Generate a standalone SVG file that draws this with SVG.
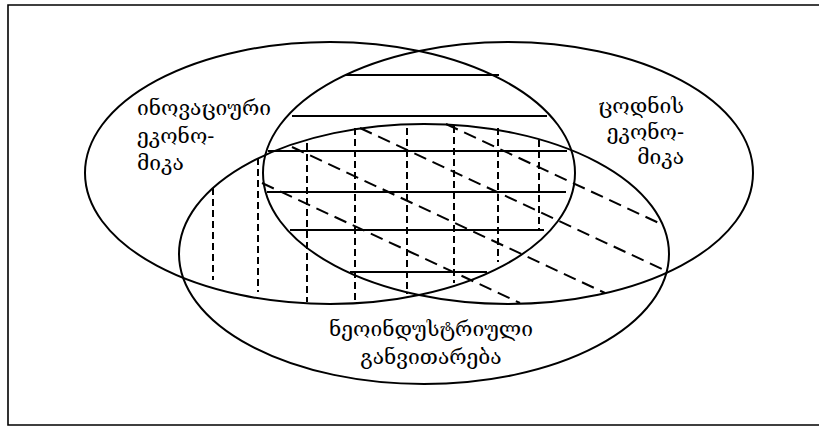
<svg xmlns="http://www.w3.org/2000/svg" width="819" height="427" viewBox="0 0 819 427">
<style>
.frame{fill:none;stroke:#000;stroke-width:1.6}
.ell{fill:none;stroke:#000;stroke-width:2}
.solid{stroke:#000;stroke-width:2;fill:none}
.vdash{stroke:#000;stroke-width:2;stroke-dasharray:7 4;fill:none}
.ddash{stroke:#000;stroke-width:2;stroke-dasharray:13 7;fill:none}
.lbl{font-family:"DejaVu Serif","DejaVu Sans",serif;font-size:21px;fill:#000}
</style>
<rect width="819" height="427" fill="#fff"/>
<path class="frame" d="M822,5 H8 V425 H822"/>
<g id="hatch-horizontal">
<line class="solid" x1="345" y1="75" x2="499" y2="75"/>
<line class="solid" x1="292" y1="116" x2="547" y2="116"/>
<line class="solid" x1="268" y1="151" x2="567" y2="151"/>
<line class="solid" x1="267" y1="192" x2="566" y2="192"/>
<line class="solid" x1="290" y1="230" x2="544" y2="230"/>
<line class="solid" x1="350" y1="272" x2="487" y2="272"/>
</g>
<g id="hatch-vertical">
<line class="vdash" x1="213" y1="188" x2="213" y2="280"/>
<line class="vdash" x1="258" y1="158" x2="258" y2="292"/>
<line class="vdash" x1="307" y1="143" x2="307" y2="302"/>
<line class="vdash" x1="355" y1="128" x2="355" y2="302"/>
<line class="vdash" x1="407" y1="128" x2="407" y2="294"/>
<line class="vdash" x1="454" y1="126" x2="454" y2="283"/>
<line class="vdash" x1="498" y1="128" x2="498" y2="262"/>
<line class="vdash" x1="539" y1="140" x2="539" y2="230"/>
</g>
<g id="hatch-diagonal">
<line class="ddash" x1="446" y1="124" x2="661" y2="224"/>
<line class="ddash" x1="360" y1="128" x2="664" y2="270"/>
<line class="ddash" x1="292" y1="147" x2="605" y2="293"/>
<line class="ddash" x1="262" y1="183" x2="520" y2="303"/>
</g>
<g id="innovative-economy">
<ellipse class="ell" cx="330" cy="173" rx="245" ry="131"/>
<text class="lbl" x="137" y="115">ინოვაციური</text>
<text class="lbl" x="137" y="143">ეკონო-</text>
<text class="lbl" x="137" y="170">მიკა</text>
</g>
<g id="knowledge-economy">
<ellipse class="ell" cx="508" cy="173" rx="245" ry="131"/>
<text class="lbl" x="684" y="113" text-anchor="end">ცოდნის</text>
<text class="lbl" x="684" y="139" text-anchor="end">ეკონო-</text>
<text class="lbl" x="684" y="164" text-anchor="end">მიკა</text>
</g>
<g id="neoindustrial-development">
<ellipse class="ell" cx="424" cy="254" rx="245" ry="130"/>
<text class="lbl" x="431" y="336" text-anchor="middle">ნეოინდუსტრიული</text>
<text class="lbl" x="431" y="364" text-anchor="middle">განვითარება</text>
</g>
<g id="connectors"/>
</svg>
